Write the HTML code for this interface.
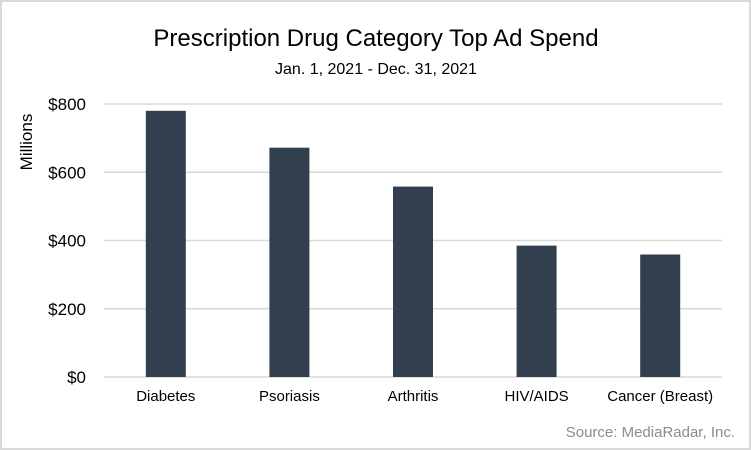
<!DOCTYPE html>
<html><head><meta charset="utf-8"><style>
html,body{margin:0;padding:0;background:#fff}
svg{display:block;font-family:"Liberation Sans",sans-serif}
</style></head><body>
<svg width="751" height="450">
<rect x="1" y="1" width="749" height="448" fill="#fff" stroke="#d9d9d9" stroke-width="2"/>
<text x="376" y="46" text-anchor="middle" font-size="24" fill="#000">Prescription Drug Category Top Ad Spend</text>
<text x="376" y="74" text-anchor="middle" font-size="16" fill="#000">Jan. 1, 2021 - Dec. 31, 2021</text>
<text transform="translate(32,142) rotate(-90)" text-anchor="middle" font-size="17" fill="#000">Millions</text>
<g id="grid"></g><g id="bars"></g><g id="labels"></g>
<text x="735" y="437" text-anchor="end" font-size="15" fill="#8c8c8c">Source: MediaRadar, Inc.</text>
</svg>
<script>
const categories=["Diabetes","Psoriasis","Arthritis","HIV/AIDS","Cancer (Breast)"];
const values=[780,672,558,385,359];
const ticks=[0,200,400,600,800];
const tickLabels=["$0","$200","$400","$600","$800"];
const NS="http://www.w3.org/2000/svg";
const x0=104,x1=722,yB=377,yT=104,vmax=800;
const y=v=>yB-(yB-yT)*v/vmax;
const bw=(x1-x0)/categories.length;
function mk(t,a,p){const e=document.createElementNS(NS,t);for(const k in a)e.setAttribute(k,a[k]);p.appendChild(e);return e;}
const g=document.getElementById('grid'),b=document.getElementById('bars'),l=document.getElementById('labels');
ticks.forEach((t,i)=>{
 const ln=mk('line',{x1:x0,x2:x1,y1:y(t),y2:y(t),stroke:'#d9d9d9','stroke-width':1.5},g);
 
 
 const tx=mk('text',{x:86,y:y(t)+6,'text-anchor':'end','font-size':17,fill:'#000'},g);
 tx.textContent=tickLabels[i];
 
 
});
categories.forEach((c,i)=>{
 const cx=x0+bw*(i+0.5);
 const r=mk('rect',{x:cx-20,y:y(values[i]),width:40,height:yB-y(values[i]),fill:'#323f4f'},b);
 
 
 const t=mk('text',{x:cx,y:401,'text-anchor':'middle','font-size':15,fill:'#000'},l);
 t.textContent=c;
 
 
});
</script>
</body></html>
